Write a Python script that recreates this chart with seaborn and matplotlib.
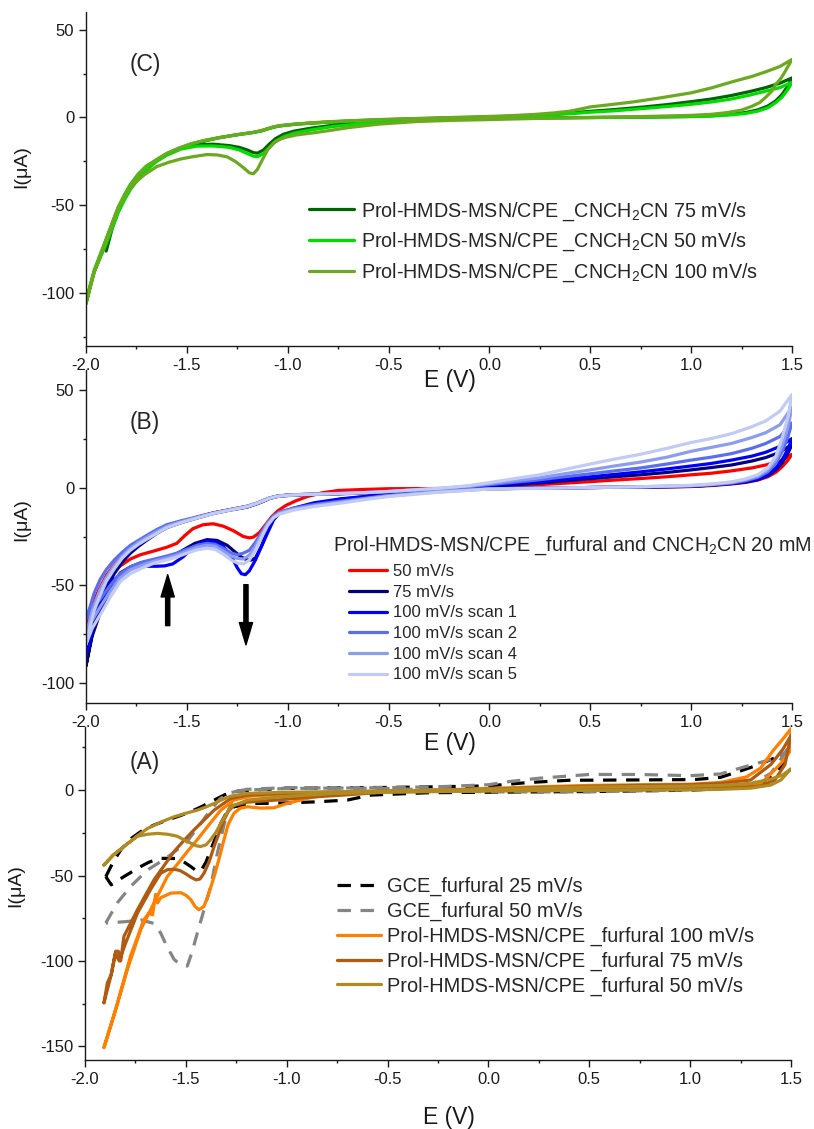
import numpy as np
import matplotlib
matplotlib.use("Agg")
import matplotlib.pyplot as plt
import seaborn as sns
from matplotlib.ticker import MultipleLocator

# ---------------- DATA ----------------
# Panel C (CNCH2CN)
c_up_E = [-2.00, -1.98, -1.96, -1.93, -1.90, -1.87, -1.84, -1.81, -1.78, -1.74,
          -1.70, -1.65, -1.60, -1.54, -1.48, -1.41, -1.34, -1.25, -1.17, -1.13,
          -1.10, -1.07, -1.04, -0.96, -0.88, -0.81, -0.74, -0.60, -0.50, -0.35,
          -0.25, -0.10, 0.00, 0.15, 0.25, 0.40, 0.50, 0.62, 0.75, 0.88,
          1.00, 1.10, 1.20, 1.30, 1.37, 1.44, 1.50]
c75_up_I = [-105, -96, -88, -79, -70, -61, -52, -45, -39, -33,
            -28.5, -24.5, -21, -18, -15.5, -13.3, -11.5, -9.8, -8.5, -7.6,
            -6.5, -5.5, -4.8, -3.8, -3.2, -2.7, -2.3, -1.6, -1.2, -0.7,
            -0.4, 0.0, 0.3, 0.9, 1.5, 2.5, 3.5, 4.5, 5.8, 7.3,
            9.0, 10.5, 12.5, 15, 17, 19.5, 22.5]
c50_up_I = [-105, -96, -87, -78, -69, -60, -51, -44, -38, -32,
            -27.5, -24, -20.5, -17.5, -15, -13, -11.5, -9.8, -8.5, -7.6,
            -6.5, -5.5, -4.8, -3.8, -3.2, -2.7, -2.3, -1.7, -1.3, -0.8,
            -0.5, -0.1, 0.2, 0.7, 1.2, 2.1, 3.0, 3.8, 5.0, 6.2,
            7.5, 8.8, 10.5, 13, 15, 17, 20]
c_lo_E = [1.50, 1.48, 1.45, 1.42, 1.38, 1.33, 1.27, 1.20, 1.10, 1.00,
          0.75, 0.50, 0.25, 0.00, -0.25, -0.50, -0.65, -0.78, -0.88, -0.97,
          -1.02, -1.06, -1.09, -1.12, -1.15, -1.17, -1.20, -1.24, -1.29, -1.37,
          -1.45, -1.53, -1.60, -1.65, -1.70, -1.74, -1.78, -1.81, -1.84, -1.87,
          -1.90]
c75_lo_I = [22.5, 18, 13, 9.5, 6.5, 4.3, 2.8, 1.8, 1.0, 0.6,
            0.2, 0, -0.2, -0.4, -1.0, -2.2, -3.2, -4.5, -6, -7.8,
            -9.5, -12, -15, -18.5, -20.3, -20, -18.5, -17, -16, -15.2,
            -15.5, -17.5, -21, -24.5, -29, -34, -40, -46, -53, -63,
            -76]
c50_lo_E = c_lo_E + [-1.93, -1.96, -2.00]
c50_lo_I = [20, 16, 11.5, 8.5, 5.5, 3.6, 2.3, 1.5, 0.8, 0.5,
            0.1, -0.1, -0.3, -0.6, -1.3, -2.6, -3.7, -5.2, -7, -9,
            -11, -13.5, -17, -20.5, -22.3, -22, -20.5, -18.5, -17, -16.2,
            -16.3, -18, -21.5, -25, -30, -35, -41, -47, -54, -63,
            -72, -80, -88, -105]

c100_up_E = [-2.00, -1.98, -1.96, -1.93, -1.90, -1.87, -1.84, -1.81, -1.78, -1.74,
             -1.70, -1.65, -1.60, -1.54, -1.48, -1.41, -1.34, -1.25, -1.17, -1.13,
             -1.10, -1.07, -1.04, -0.96, -0.88, -0.81, -0.74, -0.60, -0.50, -0.35,
             -0.25, -0.10, 0.00, 0.10, 0.22, 0.32, 0.40, 0.46, 0.50, 0.60,
             0.71, 0.85, 1.00, 1.10, 1.21, 1.30, 1.37, 1.44, 1.50]
c100_up_I = [-106, -97, -88, -79, -70, -61, -52, -45, -38.5, -32.5,
             -28, -24, -20.5, -17.5, -15, -13, -11.5, -9.8, -8.5, -7.4,
             -6.3, -5.3, -4.6, -3.7, -3.0, -2.5, -2.1, -1.4, -1.0, -0.5,
             -0.2, 0.3, 0.6, 1.0, 1.7, 2.6, 3.6, 5.0, 6.0, 7.3,
             8.8, 11.2, 14, 16.8, 20.5, 23.3, 26, 29, 33]
c100_lo_E = [1.50, 1.48, 1.46, 1.44, 1.42, 1.40, 1.37, 1.34, 1.30, 1.25,
             1.18, 1.10, 1.00, 0.75, 0.50, 0.25, 0.00, -0.20, -0.36, -0.55,
             -0.70, -0.78, -0.87, -0.96, -1.01, -1.04, -1.07, -1.10, -1.13, -1.15,
             -1.17, -1.19, -1.22, -1.26, -1.30, -1.35, -1.40, -1.47, -1.53, -1.59,
             -1.65, -1.71, -1.76, -1.80, -1.84, -1.87, -1.90, -1.93, -1.96, -2.00]
c100_lo_I = [33, 29, 25, 21.5, 19, 15, 11.5, 8.5, 6.3, 4.2,
             2.8, 1.8, 1.2, 0.5, 0.0, -0.5, -1.2, -1.7, -2.3, -3.8,
             -5.8, -7.2, -8.7, -10, -11.3, -12.5, -14.5, -18.5, -25, -29.5,
             -32, -31.5, -28.5, -25, -22.4, -21.3, -21.1, -22.3, -23.6, -25.5,
             -28, -32.5, -37.5, -43, -51, -60, -70, -79, -88, -106]

# Panel B (furfural and CNCH2CN 20 mM)
b_up_E = [-2.00, -1.98, -1.96, -1.93, -1.90, -1.86, -1.82, -1.78, -1.74, -1.70,
          -1.65, -1.60, -1.53, -1.45, -1.37, -1.29, -1.20, -1.15, -1.12, -1.09,
          -1.05, -1.00, -0.96, -0.85, -0.74, -0.60, -0.50, -0.35, -0.25, -0.10,
          0.00, 0.12, 0.25, 0.37, 0.50, 0.62, 0.75, 0.88, 1.00, 1.10,
          1.20, 1.30, 1.37, 1.44, 1.50]
b50_up_I = [-71, -64, -58, -51, -45, -39.5, -35, -31.5, -28.5, -25.5,
            -22.5, -20, -17.5, -15.2, -13, -11.4, -9.8, -8, -6.8, -5.5,
            -4.4, -3.9, -3.8, -3.4, -3.1, -2.5, -2, -1.3, -0.8, -0.1,
            0.3, 0.9, 1.5, 2.2, 3, 3.8, 4.6, 5.5, 6.5, 7.3,
            8.5, 10, 11.5, 13.5, 17]
b50_lo_E = [1.50, 1.48, 1.45, 1.42, 1.38, 1.33, 1.27, 1.20, 1.10, 1.00,
            0.75, 0.50, 0.25, 0.00, -0.25, -0.50, -0.63, -0.75, -0.83, -0.90,
            -0.96, -1.01, -1.05, -1.08, -1.11, -1.14, -1.17, -1.19, -1.22, -1.27,
            -1.32, -1.37, -1.42, -1.47, -1.51, -1.55, -1.60, -1.66, -1.73, -1.78,
            -1.83, -1.88, -1.93, -1.97, -2.00]
b50_lo_I = [17, 14, 10.5, 7.8, 5.5, 3.8, 2.6, 1.8, 1.0, 0.5,
            0.2, 0, -0.2, -0.4, -0.5, -0.6, -1.0, -1.5, -2.7, -4.5,
            -6.8, -9.2, -12, -15, -19, -23, -25.3, -25.7, -25, -22,
            -19.7, -18.5, -19, -21, -24.5, -28.5, -30.5, -32.3, -34.3, -36.5,
            -40, -45, -52, -60, -71]

b75_up_I = [-91, -80, -70, -60, -52, -44, -38, -33.5, -30, -27,
            -23.5, -20.5, -18, -15.6, -13.3, -11.6, -10, -8.2, -7, -5.6,
            -4.6, -4.1, -3.9, -3.5, -3.2, -2.7, -2.2, -1.5, -1, -0.2,
            0.5, 1.4, 2.3, 3.4, 4.5, 5.5, 6.5, 7.7, 9, 10.2,
            11.5, 13.5, 15.3, 18, 22]
b75_lo_E = [1.50, 1.48, 1.45, 1.42, 1.38, 1.33, 1.27, 1.20, 1.10, 1.00,
            0.75, 0.50, 0.25, 0.00, -0.25, -0.50, -0.62, -0.74, -0.87, -0.97,
            -1.04, -1.07, -1.10, -1.13, -1.16, -1.18, -1.20, -1.23, -1.26, -1.30,
            -1.35, -1.40, -1.46, -1.53, -1.58, -1.62, -1.67, -1.73, -1.78, -1.83,
            -1.88, -1.93, -1.97, -2.00]
b75_lo_I = [22, 17.5, 12.5, 9, 6, 4, 2.8, 2, 1.2, 0.6,
            0.2, 0, -0.3, -0.6, -1.8, -3.5, -4.7, -6, -8.7, -11,
            -13, -16, -22, -30, -36, -37, -37, -35.5, -33, -29.5,
            -27, -26.6, -28.5, -32.6, -35.5, -36.8, -37.5, -38.5, -40.5, -43.6,
            -52, -64, -76, -91]

bs1_up_I = [-86, -75, -66, -56, -49, -42, -36, -32.5, -29, -26,
            -23, -20, -17.5, -15.2, -13, -11.4, -9.6, -8, -6.7, -5.4,
            -4.4, -3.9, -3.7, -3.3, -3.0, -2.5, -2.0, -1.3, -0.8, 0.2,
            1.0, 2, 3, 4.2, 5.5, 6.7, 8, 9.5, 11, 12.3,
            14, 16, 18, 21, 25]
bs1_lo_E = [1.50, 1.48, 1.45, 1.42, 1.38, 1.33, 1.27, 1.20, 1.10, 1.00,
            0.75, 0.50, 0.25, 0.00, -0.25, -0.50, -0.62, -0.74, -0.87, -0.97,
            -1.04, -1.07, -1.10, -1.13, -1.16, -1.19, -1.21, -1.23, -1.25, -1.28,
            -1.32, -1.36, -1.40, -1.44, -1.48, -1.52, -1.57, -1.61, -1.65, -1.71,
            -1.77, -1.82, -1.87, -1.91, -1.95, -2.00]
bs1_lo_I = [25, 19.5, 14, 10, 6.5, 4.3, 3, 2.1, 1.3, 0.6,
            0.2, 0, -0.3, -0.6, -1.8, -3.5, -4.6, -5.8, -7.8, -10.5,
            -13, -16.5, -23.2, -30, -37, -42.5, -44.5, -44, -41, -35,
            -30, -27.7, -27.5, -28.5, -31.7, -35.5, -39, -40, -40.2, -40.2,
            -40.5, -43.5, -48, -56, -66, -85]

bsx_lo_E = [1.50, 1.48, 1.45, 1.42, 1.38, 1.33, 1.27, 1.20, 1.10, 1.00,
            0.75, 0.50, 0.25, 0.00, -0.25, -0.50, -0.62, -0.74, -0.87, -0.97,
            -1.04, -1.07, -1.10, -1.13, -1.16, -1.19, -1.22, -1.25, -1.28, -1.32,
            -1.36, -1.40, -1.45, -1.50, -1.55, -1.60, -1.66, -1.72, -1.78, -1.83,
            -1.88, -1.93, -1.97, -2.00]
bs2_up_I = [-67, -61, -54, -47, -42, -37, -33, -29.5, -27, -24.5,
            -21.5, -19, -17, -15, -13, -11.3, -9.5, -7.8, -6.5, -5.3,
            -4.3, -3.8, -3.6, -3.3, -3.0, -2.5, -2.0, -1.2, -0.6, 0.4,
            1.5, 2.7, 4, 5.5, 7, 8.5, 10, 12, 14, 15.5,
            17.3, 20, 22.5, 26, 33]
bs2_lo_I = [33, 26, 18, 12.5, 8, 5.2, 3.5, 2.3, 1.4, 0.8,
            0.3, 0, -0.3, -0.6, -2, -4, -5.5, -7, -8.7, -10.5,
            -12.5, -14.5, -18, -23, -28, -32, -33.5, -34.3, -33.5, -31,
            -29, -28.5, -29.5, -31.5, -33.5, -35, -36.5, -38, -40.5, -44,
            -50, -57, -62, -67]
bs4_up_I = [-75, -67, -60, -52, -46, -40, -35, -31, -28, -25.5,
            -22.5, -19.8, -17.5, -15.3, -13.2, -11.5, -9.6, -7.9, -6.6, -5.4,
            -4.4, -3.9, -3.7, -3.3, -3.0, -2.5, -2.0, -1.1, -0.5, 0.7,
            2, 3.5, 5, 7, 9, 11, 13, 15.5, 18.5, 20.5,
            22.5, 25.5, 28, 32, 41]
bs4_lo_I = [41, 31, 21, 14, 9, 5.8, 4, 2.6, 1.6, 1,
            0.4, 0, -0.3, -0.7, -2.2, -4.3, -5.8, -7.5, -9.3, -11,
            -13, -15, -18.5, -24, -30, -34.5, -36.5, -36.2, -35, -32.5,
            -30, -29.5, -30.5, -32.5, -34.5, -36, -37.5, -39.5, -42, -46,
            -53, -61, -68, -75]
bs5_up_I = [-80, -71, -63, -55, -48, -41.5, -36, -32, -29, -26.5,
            -23.5, -20.5, -18, -15.6, -13.3, -11.6, -9.8, -8, -6.8, -5.5,
            -4.5, -4, -3.8, -3.4, -3.1, -2.5, -2.0, -1.0, -0.4, 1,
            2.5, 4.5, 6.5, 9.2, 12, 14.5, 17, 20, 23, 25,
            27.5, 31, 34, 39, 47.5]
bs5_lo_I = [47.5, 36, 25, 16, 10, 6.5, 4.4, 2.9, 1.8, 1.1,
            0.4, 0, -0.4, -0.8, -2.4, -4.6, -6.2, -8, -9.7, -11.5,
            -13.5, -15.5, -19.5, -25.5, -32, -37, -39, -38.5, -37, -34,
            -31.5, -31, -31.8, -33.5, -35.5, -37, -38.5, -41, -44, -48,
            -56, -65, -72, -80]

# Panel A (furfural)
gce25_up_E = [-1.897, -1.86, -1.823, -1.78, -1.724, -1.66, -1.592, -1.53, -1.476, -1.42, -1.36, -1.294, -1.24, -1.03, -0.7, -0.5, -0.25, 0.0, 0.2, 0.4, 0.75, 1.02, 1.15, 1.25, 1.33, 1.40, 1.46, 1.50]
gce25_up_I = [-50.6, -42, -35, -29, -24.3, -20.5, -17.5, -15, -12.6, -9.5, -5.8, -1.9, -0.5, 1.0, 1.5, 1.6, 2.0, 2.5, 4.5, 5.8, 6.0, 6.2, 7.5, 11.3, 14.5, 17.9, 21, 25]
gce25_lo_E = [1.50, 1.456, 1.40, 1.35, 1.25, 1.0, 0.5, 0.0, -0.3, -0.584, -0.70, -0.85, -1.0, -1.163, -1.262, -1.30, -1.327, -1.35, -1.377, -1.40, -1.427, -1.45, -1.476, -1.51, -1.55, -1.625, -1.68, -1.724, -1.807, -1.87, -1.897]
gce25_lo_I = [25, 14.6, 8, 3.9, 1.5, 0, -0.8, -1.2, -1.5, -2.9, -5.8, -6.8, -7.5, -7.8, -9.7, -13.5, -19.5, -27, -35, -42, -47.6, -47, -44.7, -42, -40, -39.9, -42, -44.7, -50.6, -55.4, -50.6]

gce50_up_E = [-1.897, -1.84, -1.774, -1.69, -1.60, -1.50, -1.43, -1.38, -1.33, -1.28, -1.22, -1.0, -0.5, -0.25, 0.0, 0.1, 0.25, 0.5, 0.75, 1.0, 1.15, 1.25, 1.40, 1.47, 1.50]
gce50_up_I = [-77.8, -66, -56.4, -46.7, -40, -31, -20, -12, -5, -1.5, 0, 1, 1.5, 2.0, 3.2, 5, 7, 9.2, 9.2, 8.5, 9.5, 13, 18, 21.6, 27]
gce50_lo_E = [1.50, 1.47, 1.40, 1.30, 1.10, 0.5, 0.0, -0.5, -1.0, -1.20, -1.26, -1.30, -1.344, -1.377, -1.41, -1.443, -1.47, -1.493, -1.53, -1.559, -1.60, -1.625, -1.66, -1.72, -1.80, -1.897]
gce50_lo_I = [27, 21.6, 9.9, 3, 0.5, -1, -1, 1, 1.5, 0.5, -3, -15, -37, -56.4, -70, -83.6, -95, -103, -102, -99, -90, -83.6, -78, -76, -77, -77.8]

p100_up_E = [-1.906, -1.856, -1.79, -1.724, -1.658, -1.592, -1.54, -1.493, -1.44, -1.393, -1.327, -1.262, -1.18, -1.0, -0.7, -0.5, -0.25, 0.0, 0.25, 0.5, 0.75, 1.0, 1.15, 1.28, 1.35, 1.41, 1.46, 1.50]
p100_up_I = [-150.7, -132, -105, -81.7, -66, -50.6, -43, -36, -28.5, -21.4, -11.7, -5.8, -3.5, -2.2, -1.4, -0.8, 0, 1, 2, 2.8, 3.2, 3.5, 4.5, 7.8, 13, 23, 30, 36]
p100_lo_E = [1.50, 1.497, 1.46, 1.415, 1.35, 1.25, 1.0, 0.5, 0.0, -0.5, -0.74, -0.88, -1.0, -1.063, -1.13, -1.195, -1.23, -1.262, -1.29, -1.311, -1.335, -1.36, -1.385, -1.41, -1.435, -1.455, -1.476, -1.50, -1.526, -1.575, -1.625, -1.64, -1.65, -1.665, -1.683, -1.708, -1.774, -1.84, -1.906]
p100_lo_I = [36, 23, 17, 11.3, 3.9, 2.9, 1.5, 0.8, 0.2, -0.6, -1.8, -4.3, -7.8, -10.3, -10.5, -9.7, -10.5, -13.6, -20, -29, -40, -50.6, -60, -68, -70, -68, -64, -61.5, -60, -60.3, -63, -66, -61, -73, -72, -75.8, -97, -125, -150.7]

p75_up_E = [-1.906, -1.889, -1.87, -1.848, -1.835, -1.823, -1.807, -1.74, -1.658, -1.559, -1.51, -1.46, -1.41, -1.36, -1.278, -1.195, -1.0, -0.7, -0.5, -0.25, 0.0, 0.25, 0.5, 0.75, 1.0, 1.15, 1.30, 1.40, 1.46, 1.50]
p75_up_I = [-124.5, -112.8, -108, -94.3, -94.3, -100, -85.6, -70, -52.5, -36, -29.5, -23.3, -17.5, -11.7, -4.9, -2.9, -1.8, -1.0, -0.5, 0, 0.6, 1.5, 2.3, 2.8, 3.2, 4, 6, 15, 24, 32]
p75_lo_E = [1.50, 1.47, 1.42, 1.35, 1.25, 1.0, 0.5, 0.0, -0.5, -0.7, -0.9, -1.03, -1.195, -1.262, -1.29, -1.311, -1.335, -1.36, -1.385, -1.41, -1.43, -1.45, -1.475, -1.50, -1.53, -1.559, -1.59, -1.625, -1.674, -1.74, -1.80, -1.83, -1.85, -1.87, -1.906]
p75_lo_I = [32, 15, 6, 2.5, 1.5, 0.8, 0.3, -0.2, -1, -2.7, -4.2, -5.6, -7, -8.8, -12.5, -17.5, -25, -33, -42, -48.6, -52, -52.5, -51, -49, -47, -46.3, -46.5, -48.6, -58, -72, -90, -100, -96, -108, -124.5]

p50_up_E = [-1.906, -1.86, -1.807, -1.75, -1.69, -1.62, -1.559, -1.50, -1.443, -1.40, -1.36, -1.32, -1.278, -1.195, -1.0, -0.7, -0.5, -0.25, 0.0, 0.25, 0.5, 0.75, 1.0, 1.15, 1.30, 1.40, 1.46, 1.50]
p50_up_I = [-43.8, -38, -33, -27.5, -22.4, -18.5, -15.6, -13.5, -11.7, -9.8, -7.8, -5.5, -3.5, -1.9, -1.2, -0.8, -0.4, 0, 0.5, 1.2, 1.8, 2.1, 2.4, 2.8, 4, 6.5, 9, 12.5]
p50_lo_E = [1.50, 1.45, 1.40, 1.30, 1.15, 1.0, 0.5, 0.0, -0.5, -0.78, -1.03, -1.195, -1.278, -1.30, -1.327, -1.35, -1.377, -1.40, -1.427, -1.45, -1.476, -1.51, -1.542, -1.59, -1.641, -1.69, -1.74, -1.807, -1.86, -1.906]
p50_lo_I = [12.5, 6, 3, 1.2, 0.5, 0.2, -0.2, -0.5, -1.2, -2, -3.9, -5.8, -9.7, -14, -19.5, -24.5, -29, -32, -33, -32.5, -31, -29, -27, -25.8, -25.3, -25.8, -27, -33, -38, -43.8]

x_ticks = [-2.0, -1.5, -1.0, -0.5, 0.0, 0.5, 1.0, 1.5]

# ---------------- STYLE ----------------
sns.set_theme(style="ticks")
plt.rcParams["font.family"] = ["Liberation Sans", "DejaVu Sans"]
plt.rcParams["mathtext.fontset"] = "custom"
plt.rcParams["mathtext.rm"] = "Liberation Sans"
plt.rcParams["mathtext.it"] = "Liberation Sans:italic"
plt.rcParams["mathtext.bf"] = "Liberation Sans:bold"
plt.rcParams["axes.unicode_minus"] = False

W, H = 814, 1129
fig = plt.figure(figsize=(W / 100, H / 100), dpi=100)
fig.patch.set_facecolor("white")


def px_axes(l, t, r, b):
    return fig.add_axes([l / W, 1 - b / H, (r - l) / W, (b - t) / H])


axC = px_axes(86, 12, 792, 346)
axB = px_axes(86, 370, 792, 703)
axA = px_axes(85, 727, 791, 1060)

LW = 2.3


def cv(ax, upE, upI, loE, loI, color, label, dashed=False):
    E = np.concatenate([upE, loE])
    I = np.concatenate([upI, loI])
    sns.lineplot(x=E, y=I, sort=False, estimator=None, color=color,
                 linewidth=LW, label=label, ax=ax)
    ln = ax.lines[-1]
    ln.set_solid_joinstyle("round")
    if dashed:
        ln.set_dashes((4.2, 3.0))
    return ln


# Panel C
cv(axC, c_up_E, c75_up_I, c_lo_E, c75_lo_I, "#006400", r"Prol-HMDS-MSN/CPE _CNCH$_2$CN 75 mV/s")
cv(axC, c_up_E, c50_up_I, c50_lo_E, c50_lo_I, "#00DD00", r"Prol-HMDS-MSN/CPE _CNCH$_2$CN 50 mV/s")
cv(axC, c100_up_E, c100_up_I, c100_lo_E, c100_lo_I, "#6BAA1F", r"Prol-HMDS-MSN/CPE _CNCH$_2$CN 100 mV/s")

# Panel B
cv(axB, b_up_E, b50_up_I, b50_lo_E, b50_lo_I, "#FF0000", "50 mV/s")
cv(axB, b_up_E, b75_up_I, b75_lo_E, b75_lo_I, "#000080", "75 mV/s")
cv(axB, b_up_E, bs1_up_I, bs1_lo_E, bs1_lo_I, "#0000FF", "100 mV/s scan 1")
cv(axB, b_up_E, bs2_up_I, bsx_lo_E, bs2_lo_I, "#5B6EF0", "100 mV/s scan 2")
cv(axB, b_up_E, bs4_up_I, bsx_lo_E, bs4_lo_I, "#8C9CF0", "100 mV/s scan 4")
cv(axB, b_up_E, bs5_up_I, bsx_lo_E, bs5_lo_I, "#C2CAF6", "100 mV/s scan 5")

# Panel A
cv(axA, gce25_up_E, gce25_up_I, gce25_lo_E, gce25_lo_I, "#000000", "GCE_furfural 25 mV/s", dashed=True)
cv(axA, gce50_up_E, gce50_up_I, gce50_lo_E, gce50_lo_I, "#858585", "GCE_furfural 50 mV/s", dashed=True)
cv(axA, p100_up_E, p100_up_I, p100_lo_E, p100_lo_I, "#FF8000", "Prol-HMDS-MSN/CPE _furfural 100 mV/s")
cv(axA, p75_up_E, p75_up_I, p75_lo_E, p75_lo_I, "#B05A12", "Prol-HMDS-MSN/CPE _furfural 75 mV/s")
cv(axA, p50_up_E, p50_up_I, p50_lo_E, p50_lo_I, "#B08A22", "Prol-HMDS-MSN/CPE _furfural 50 mV/s")

# Axes formatting
for ax, ylim, yt in [(axC, (-130, 60), [-100, -50, 0, 50]),
                     (axB, (-110, 60), [-100, -50, 0, 50]),
                     (axA, (-158, 37), [-150, -100, -50, 0])]:
    ax.set_xlim(-2.0, 1.5)
    ax.set_ylim(*ylim)
    ax.set_xticks(x_ticks)
    ax.set_yticks(yt)
    ax.xaxis.set_minor_locator(MultipleLocator(0.25))
    ax.yaxis.set_minor_locator(MultipleLocator(25))
    ax.tick_params(which="major", direction="out", length=5, width=1, labelsize=12, color="k", labelcolor="k")
    ax.tick_params(which="minor", direction="out", length=2.5, width=1, color="k")
    sns.despine(ax=ax)
    for s in ("left", "bottom"):
        ax.spines[s].set_color("k")
        ax.spines[s].set_linewidth(1.0)
    ax.set_xlabel("E (V)", fontsize=16.5, color="k")
    ax.set_ylabel("I(μA)", fontsize=14, color="k")
    ax.patch.set_alpha(0.0)

axC.xaxis.set_label_coords(0.515, -0.068)
axB.xaxis.set_label_coords(0.515, -0.087)
axA.xaxis.set_label_coords(0.515, -0.138)
axC.yaxis.set_label_coords(-0.079, 0.536)
axB.yaxis.set_label_coords(-0.079, 0.55)
axA.yaxis.set_label_coords(-0.086, 0.525)

# Panel labels
fig.text(145 / W, 1 - 65 / H, "(C)", fontsize=16.5, ha="center", va="center")
fig.text(145 / W, 1 - 422 / H, "(B)", fontsize=16.5, ha="center", va="center")
fig.text(145 / W, 1 - 762 / H, "(A)", fontsize=16.5, ha="center", va="center")

# Legends
axC.legend(loc="upper left", bbox_to_anchor=(309 / W, 1 - 200 / H), bbox_transform=fig.transFigure,
           frameon=False, fontsize=14.2, handlelength=2.3, handletextpad=0.35, labelspacing=0.42,
           borderpad=0, borderaxespad=0)
axB.legend(loc="upper left", bbox_to_anchor=(349 / W, 1 - 564 / H), bbox_transform=fig.transFigure,
           frameon=False, fontsize=12, handlelength=2.28, handletextpad=0.36, labelspacing=0.34,
           borderpad=0, borderaxespad=0)
fig.text(333 / W, 1 - 546 / H, r"Prol-HMDS-MSN/CPE _furfural and CNCH$_2$CN 20 mM",
         fontsize=14.2, ha="left", va="center")
axA.legend(loc="upper left", bbox_to_anchor=(337 / W, 1 - 877 / H), bbox_transform=fig.transFigure,
           frameon=False, fontsize=14.4, handlelength=2.2, handletextpad=0.3, labelspacing=0.28,
           borderpad=0, borderaxespad=0)

# Arrows in panel B
axB.annotate("", xy=(-1.595, -44.5), xytext=(-1.595, -70.5),
             arrowprops=dict(facecolor="black", edgecolor="black", width=3, headwidth=9.5, headlength=16, shrink=0))
axB.annotate("", xy=(-1.207, -80.3), xytext=(-1.207, -49.6),
             arrowprops=dict(facecolor="black", edgecolor="black", width=3, headwidth=9.5, headlength=16, shrink=0))

fig.savefig("out.png", dpi=100, facecolor="white")
